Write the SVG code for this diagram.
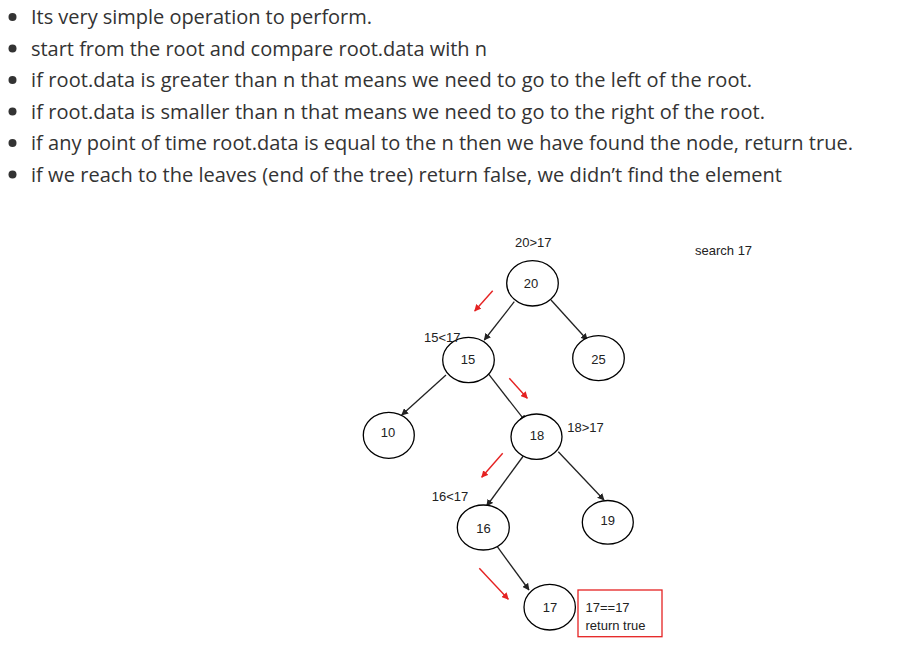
<svg xmlns="http://www.w3.org/2000/svg" width="911" height="646" viewBox="0 0 911 646">
<style>
.t{font-family:"Open Sans","Noto Sans",sans-serif;font-size:20px;fill:#333}
.b{fill:#333}
.n{fill:#fff;stroke:#000;stroke-width:1.3}
.l{font-family:"Liberation Sans",Arial,sans-serif;font-size:13px;fill:#222}
.c{text-anchor:middle}
.e{stroke:#222;stroke-width:1.3;fill:none;marker-end:url(#ah)}
.r{stroke:#e52222;stroke-width:1.4;fill:none;marker-end:url(#rh)}
</style>
<defs>
<marker id="ah" viewBox="0 0 10 10" refX="9" refY="5" markerWidth="7" markerHeight="7" markerUnits="userSpaceOnUse" orient="auto"><path d="M0,0L10,5L0,10z" fill="#222"/></marker>
<marker id="rh" viewBox="0 0 10 10" refX="9" refY="5" markerWidth="7" markerHeight="7" markerUnits="userSpaceOnUse" orient="auto"><path d="M0,0L10,5L0,10z" fill="#e52222"/></marker>
</defs>
<rect width="911" height="646" fill="#fff"/>
<g id="bullets">
<circle class="b" cx="12.5" cy="17" r="4"/>
<circle class="b" cx="12.5" cy="48.5" r="4"/>
<circle class="b" cx="12.5" cy="80" r="4"/>
<circle class="b" cx="12.5" cy="111.5" r="4"/>
<circle class="b" cx="12.5" cy="143" r="4"/>
<circle class="b" cx="12.5" cy="174.5" r="4"/>
<text class="t" x="31" y="24" textLength="341">Its very simple operation to perform.</text>
<text class="t" x="31" y="55.5" textLength="456">start from the root and compare root.data with n</text>
<text class="t" x="31" y="87" textLength="721">if root.data is greater than n that means we need to go to the left of the root.</text>
<text class="t" x="31" y="118.5" textLength="734">if root.data is smaller than n that means we need to go to the right of the root.</text>
<text class="t" x="31" y="150" textLength="822">if any point of time root.data is equal to the n then we have found the node, return true.</text>
<text class="t" x="31" y="181.5" textLength="751">if we reach to the leaves (end of the tree) return false, we didn’t find the element</text>
</g>
<g id="connectors">
<line class="e" x1="514.3" y1="301.7" x2="484.3" y2="340"/>
<line class="e" x1="551" y1="300" x2="587.3" y2="340"/>
<line class="e" x1="446" y1="375" x2="401.7" y2="415"/>
<line class="e" x1="486.7" y1="371.7" x2="525.7" y2="421.7"/>
<line class="e" x1="523.3" y1="456" x2="486.7" y2="506"/>
<line class="e" x1="558.3" y1="451.7" x2="604" y2="500"/>
<line class="e" x1="497.3" y1="546.7" x2="529" y2="590"/>
<line class="r" x1="492.7" y1="290.7" x2="474.7" y2="311"/>
<line class="r" x1="509.3" y1="378.3" x2="527.3" y2="398.3"/>
<line class="r" x1="502.7" y1="453.3" x2="481.7" y2="477.3"/>
<line class="r" x1="479.3" y1="568.3" x2="508.3" y2="599.3"/>
</g>
<g id="n20"><ellipse class="n" cx="532.5" cy="283.3" rx="25.8" ry="22.7"/><text class="l c" x="531" y="288">20</text></g>
<g id="n15"><ellipse class="n" cx="468.5" cy="360" rx="25.8" ry="22.7"/><text class="l c" x="468" y="363.5">15</text></g>
<g id="n25"><ellipse class="n" cx="598.5" cy="358.2" rx="25.8" ry="22.5"/><text class="l c" x="598.5" y="364">25</text></g>
<g id="n10"><ellipse class="n" cx="388.8" cy="435.3" rx="25.5" ry="23"/><text class="l c" x="388" y="437">10</text></g>
<g id="n18"><ellipse class="n" cx="536.5" cy="436.7" rx="25.5" ry="22.7"/><text class="l c" x="537" y="440">18</text></g>
<g id="n16"><ellipse class="n" cx="483.3" cy="527.5" rx="26" ry="22.5"/><text class="l c" x="483.5" y="533">16</text></g>
<g id="n19"><ellipse class="n" cx="607.8" cy="522.3" rx="25.5" ry="21.8"/><text class="l c" x="607.8" y="525">19</text></g>
<g id="n17"><ellipse class="n" cx="549.7" cy="607.2" rx="25.7" ry="22.8"/><text class="l c" x="550" y="612">17</text></g>
<g id="labels">
<text class="l" x="515" y="247.3">20&gt;17</text>
<text class="l" x="424" y="341.7">15&lt;17</text>
<text class="l" x="567.3" y="431.7">18&gt;17</text>
<text class="l" x="431.7" y="500.7">16&lt;17</text>
<text class="l" x="695" y="255">search 17</text>
</g>
<g id="result">
<rect x="578" y="590" width="84" height="46.7" fill="#fff" stroke="#e52222" stroke-width="1.3"/>
<text class="l" x="585.5" y="611.5">17==17</text>
<text class="l" x="585.5" y="629.5">return true</text>
</g>
</svg>
